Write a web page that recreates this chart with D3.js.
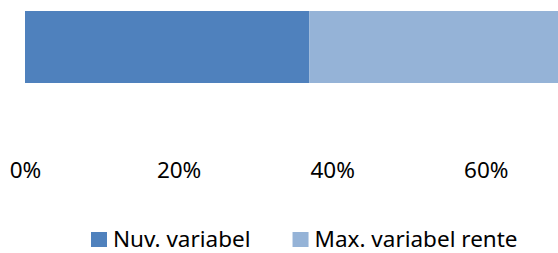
<!DOCTYPE html>
<html>
<head>
<meta charset="utf-8">
<script src="https://cdn.jsdelivr.net/npm/d3@7"></script>
<style>
  html, body { margin: 0; padding: 0; background: #fff; overflow: hidden; }
  svg { display: block; }
  text { font-family: "Noto Sans", "Open Sans", sans-serif; fill: #000; }
</style>
</head>
<body>
<svg id="chart" width="558" height="253"></svg>
<script>
const categories = ["Rente"];
const seriesNames = ["Nuv. variabel", "Max. variabel rente"];
const seriesValues = [[0.37], [0.63]];
const seriesColors = ["#4F81BD", "#95B3D7"];
const tickValues = [0, 0.2, 0.4, 0.6];

const svg = d3.select("#chart");

const x = d3.scaleLinear().domain([0, 1]).range([25, 793]);
const y = d3.scaleBand().domain(categories).range([11, 83]).padding(0);

const rows = categories.map((c, i) => {
  const o = { cat: c };
  seriesNames.forEach((s, j) => o[s] = seriesValues[j][i]);
  return o;
});
const stacked = d3.stack().keys(seriesNames)(rows);

svg.append("g").selectAll("g")
  .data(stacked)
  .join("g")
  .attr("fill", (d, i) => seriesColors[i])
  .selectAll("rect")
  .data(d => d)
  .join("rect")
  .attr("x", d => x(d[0]))
  .attr("width", d => x(d[1]) - x(d[0]))
  .attr("y", d => y(d.data.cat))
  .attr("height", y.bandwidth());

const axis = d3.axisBottom(x).tickValues(tickValues).tickFormat(d3.format(".0%")).tickSize(0).tickPadding(0);
const ag = svg.append("g").attr("transform", "translate(0,156)").call(axis);
ag.select(".domain").remove();
ag.selectAll("text")
  .attr("font-size", 22.5)
  .attr("font-family", "'Noto Sans', sans-serif")
  .attr("fill", "#000")
  .attr("dy", "0")
  .attr("y", 22);

// Legend
const lg = svg.append("g");
let cx = 91;
seriesNames.forEach((s, i) => {
  lg.append("rect").attr("x", cx).attr("y", 232).attr("width", 16).attr("height", 15).attr("fill", seriesColors[i]);
  const t = lg.append("text").attr("x", cx + 22).attr("y", 246.5).attr("font-size", 22.5).text(s);
  cx += 22 + t.node().getComputedTextLength() + 42;
});
</script>
</body>
</html>
